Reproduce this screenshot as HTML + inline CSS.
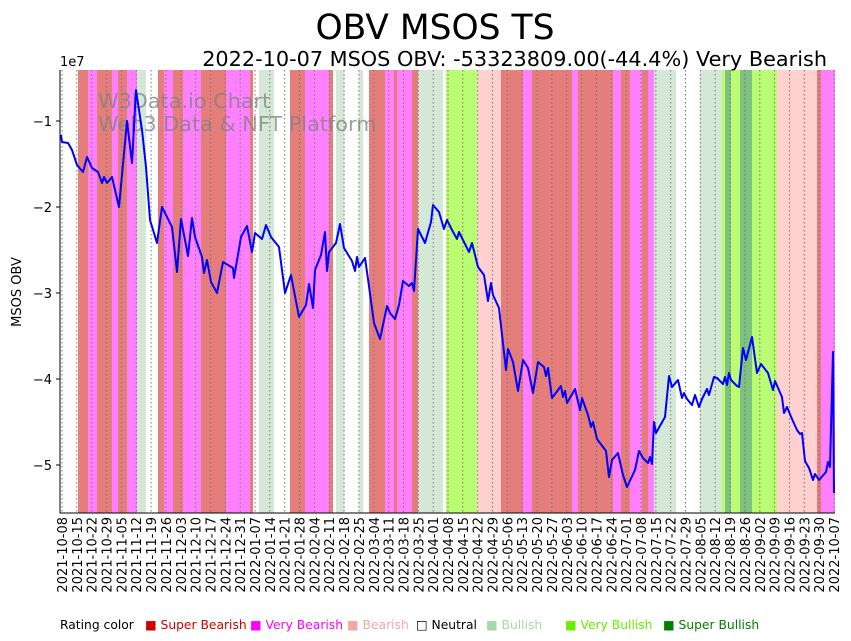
<!DOCTYPE html>
<html><head><meta charset="utf-8"><style>body{margin:0;background:#fff}svg{display:block;font-family:"DejaVu Sans","Liberation Sans",sans-serif}</style></head><body>
<svg width="851" height="641" viewBox="0 0 851 641">
<g>
<rect x="78" y="70" width="10" height="443" fill="#e57e7b"/>
<rect x="88" y="70" width="9" height="443" fill="#ff80ff"/>
<rect x="97" y="70" width="15" height="443" fill="#e57e7b"/>
<rect x="112" y="70" width="6" height="443" fill="#ff80ff"/>
<rect x="118" y="70" width="9" height="443" fill="#e57e7b"/>
<rect x="127" y="70" width="10" height="443" fill="#ff80ff"/>
<rect x="137" y="70" width="9" height="443" fill="#d5e8d5"/>
<rect x="158" y="70" width="6" height="443" fill="#e57e7b"/>
<rect x="164" y="70" width="9" height="443" fill="#ff80ff"/>
<rect x="173" y="70" width="10" height="443" fill="#e57e7b"/>
<rect x="183" y="70" width="18" height="443" fill="#ff80ff"/>
<rect x="201" y="70" width="25" height="443" fill="#e57e7b"/>
<rect x="226" y="70" width="24" height="443" fill="#ff80ff"/>
<rect x="250" y="70" width="3" height="443" fill="#e57e7b"/>
<rect x="259" y="70" width="15" height="443" fill="#d5e8d5"/>
<rect x="290" y="70" width="15" height="443" fill="#e57e7b"/>
<rect x="305" y="70" width="24" height="443" fill="#ff80ff"/>
<rect x="329" y="70" width="4" height="443" fill="#e57e7b"/>
<rect x="336" y="70" width="8" height="443" fill="#d5e8d5"/>
<rect x="359" y="70" width="4" height="443" fill="#d5e8d5"/>
<rect x="369" y="70" width="16" height="443" fill="#e57e7b"/>
<rect x="385" y="70" width="9" height="443" fill="#ff80ff"/>
<rect x="394" y="70" width="3" height="443" fill="#e57e7b"/>
<rect x="397" y="70" width="15" height="443" fill="#ff80ff"/>
<rect x="412" y="70" width="6" height="443" fill="#e57e7b"/>
<rect x="418" y="70" width="25" height="443" fill="#d5e8d5"/>
<rect x="446" y="70" width="31" height="443" fill="#bbfd72"/>
<rect x="477" y="70" width="24" height="443" fill="#ffd0d0"/>
<rect x="501" y="70" width="22" height="443" fill="#e57e7b"/>
<rect x="523" y="70" width="9" height="443" fill="#ff80ff"/>
<rect x="532" y="70" width="40" height="443" fill="#e57e7b"/>
<rect x="572" y="70" width="6" height="443" fill="#ff80ff"/>
<rect x="578" y="70" width="35" height="443" fill="#e57e7b"/>
<rect x="613" y="70" width="8" height="443" fill="#ff80ff"/>
<rect x="621" y="70" width="9" height="443" fill="#e57e7b"/>
<rect x="630" y="70" width="12" height="443" fill="#ff80ff"/>
<rect x="642" y="70" width="6" height="443" fill="#e57e7b"/>
<rect x="648" y="70" width="6" height="443" fill="#ff80ff"/>
<rect x="654" y="70" width="22" height="443" fill="#d5e8d5"/>
<rect x="700" y="70" width="22" height="443" fill="#d5e8d5"/>
<rect x="722" y="70" width="3" height="443" fill="#bbfd72"/>
<rect x="725" y="70" width="6" height="443" fill="#80c080"/>
<rect x="731" y="70" width="9" height="443" fill="#bbfd72"/>
<rect x="740" y="70" width="12" height="443" fill="#80c080"/>
<rect x="752" y="70" width="25" height="443" fill="#bbfd72"/>
<rect x="777" y="70" width="40" height="443" fill="#ffd0d0"/>
<rect x="817" y="70" width="4" height="443" fill="#e57e7b"/>
<rect x="821" y="70" width="14" height="443" fill="#ff80ff"/>
</g>
<g stroke="#777" stroke-width="1" stroke-dasharray="1.5,2.5">
<line x1="62" y1="70" x2="62" y2="513"/><line x1="76.8" y1="70" x2="76.8" y2="513"/><line x1="91.7" y1="70" x2="91.7" y2="513"/><line x1="106.5" y1="70" x2="106.5" y2="513"/><line x1="121.4" y1="70" x2="121.4" y2="513"/><line x1="136.2" y1="70" x2="136.2" y2="513"/><line x1="151.1" y1="70" x2="151.1" y2="513"/><line x1="165.9" y1="70" x2="165.9" y2="513"/><line x1="180.8" y1="70" x2="180.8" y2="513"/><line x1="195.6" y1="70" x2="195.6" y2="513"/><line x1="210.5" y1="70" x2="210.5" y2="513"/><line x1="225.3" y1="70" x2="225.3" y2="513"/><line x1="240.2" y1="70" x2="240.2" y2="513"/><line x1="255" y1="70" x2="255" y2="513"/><line x1="269.8" y1="70" x2="269.8" y2="513"/><line x1="284.7" y1="70" x2="284.7" y2="513"/><line x1="299.5" y1="70" x2="299.5" y2="513"/><line x1="314.4" y1="70" x2="314.4" y2="513"/><line x1="329.2" y1="70" x2="329.2" y2="513"/><line x1="344.1" y1="70" x2="344.1" y2="513"/><line x1="358.9" y1="70" x2="358.9" y2="513"/><line x1="373.8" y1="70" x2="373.8" y2="513"/><line x1="388.6" y1="70" x2="388.6" y2="513"/><line x1="403.5" y1="70" x2="403.5" y2="513"/><line x1="418.3" y1="70" x2="418.3" y2="513"/><line x1="433.2" y1="70" x2="433.2" y2="513"/><line x1="448" y1="70" x2="448" y2="513"/><line x1="462.8" y1="70" x2="462.8" y2="513"/><line x1="477.7" y1="70" x2="477.7" y2="513"/><line x1="492.5" y1="70" x2="492.5" y2="513"/><line x1="507.4" y1="70" x2="507.4" y2="513"/><line x1="522.2" y1="70" x2="522.2" y2="513"/><line x1="537.1" y1="70" x2="537.1" y2="513"/><line x1="551.9" y1="70" x2="551.9" y2="513"/><line x1="566.8" y1="70" x2="566.8" y2="513"/><line x1="581.6" y1="70" x2="581.6" y2="513"/><line x1="596.5" y1="70" x2="596.5" y2="513"/><line x1="611.3" y1="70" x2="611.3" y2="513"/><line x1="626.2" y1="70" x2="626.2" y2="513"/><line x1="641" y1="70" x2="641" y2="513"/><line x1="655.8" y1="70" x2="655.8" y2="513"/><line x1="670.7" y1="70" x2="670.7" y2="513"/><line x1="685.5" y1="70" x2="685.5" y2="513"/><line x1="700.4" y1="70" x2="700.4" y2="513"/><line x1="715.2" y1="70" x2="715.2" y2="513"/><line x1="730.1" y1="70" x2="730.1" y2="513"/><line x1="744.9" y1="70" x2="744.9" y2="513"/><line x1="759.8" y1="70" x2="759.8" y2="513"/><line x1="774.6" y1="70" x2="774.6" y2="513"/><line x1="789.5" y1="70" x2="789.5" y2="513"/><line x1="804.3" y1="70" x2="804.3" y2="513"/><line x1="819.2" y1="70" x2="819.2" y2="513"/><line x1="834" y1="70" x2="834" y2="513"/>
</g>
<g font-size="20.8" fill="#808080" fill-opacity="0.75"><text x="98" y="108">W3Data.io Chart</text><text x="98" y="131">Web3 Data &amp; NFT Platform</text></g>
<polyline fill="none" stroke="#0000ff" stroke-width="2" stroke-linejoin="round" points="61,135 62,142 68,143 72,150 77,165 83,172 87,157 92,168 98,172 102,183 104,177 107,183 112,177 119,207 122,175 127,121 132,163 136,90 142,130 146,167 150,220 157,243 162,207 172,227 177,272 181,219 188,256 192,218 195,237 202,257 204,273 207,260 211,282 217,293 223,262 233,268 234,278 241,237 247,226 252,252 255,233 262,239 266,225 271,237 279,247 285,293 291,275 299,317 306,305 309,284 313,308 315,270 321,255 325,232 327,271 329,252 336,243 340,224 344,248 352,261 355,271 357,257 359,267 365,258 368,279 374,323 380,339 387,306 390,313 395,319 399,305 403,281 409,286 412,283 414,291 418,229 425,243 431,222 433,205 439,212 444,229 447,220 452,230 457,239 459,232 463,240 469,252 472,243 478,267 484,275 488,301 491,283 493,295 499,308 506,370 508,349 513,362 518,391 523,360 528,368 533,393 538,362 544,367 546,376 548,368 552,398 561,386 563,397 565,391 567,403 575,389 580,410 582,398 588,415 591,427 593,422 597,439 606,451 609,477 612,460 618,453 623,475 627,487 635,470 639,451 643,458 648,463 650,457 652,464 654,422 656,433 665,417 669,376 672,387 678,380 682,398 684,393 687,399 692,405 695,395 699,407 702,399 707,389 709,395 714,377 717,378 723,384 725,377 727,385 729,373 731,380 737,386 739,387 743,348 746,360 752,337 757,373 761,364 768,373 773,390 775,381 782,397 784,413 787,407 792,419 797,430 800,434 802,433 805,461 809,468 813,480 815,474 819,480 826,472 828,462 830,467 833,352 834,493"/>
<g stroke="#000" stroke-width="1"><line x1="60" y1="70" x2="60" y2="513.5"/><line x1="60" y1="513" x2="835" y2="513"/>
<line x1="56" y1="121" x2="60" y2="121"/><line x1="56" y1="207" x2="60" y2="207"/><line x1="56" y1="293" x2="60" y2="293"/><line x1="56" y1="379" x2="60" y2="379"/><line x1="56" y1="465" x2="60" y2="465"/></g>
<g font-size="13" text-anchor="end" fill="#000"><text x="52" y="126">−1</text><text x="52" y="212">−2</text><text x="52" y="298">−3</text><text x="52" y="384">−4</text><text x="52" y="470">−5</text></g>
<text x="60" y="66" font-size="13">1e7</text>
<text transform="translate(21,292) rotate(-90)" font-size="13" text-anchor="middle">MSOS OBV</text>
<text x="435" y="39" font-size="34.5" text-anchor="middle">OBV MSOS TS</text>
<text x="827" y="66" font-size="20.8" text-anchor="end">2022-10-07 MSOS OBV: -53323809.00(-44.4%) Very Bearish</text>
<g font-size="13" text-anchor="end">
<text transform="translate(67,517) rotate(-90)">2021-10-08</text><text transform="translate(81.8,517) rotate(-90)">2021-10-15</text><text transform="translate(96.7,517) rotate(-90)">2021-10-22</text><text transform="translate(111.5,517) rotate(-90)">2021-10-29</text><text transform="translate(126.4,517) rotate(-90)">2021-11-05</text><text transform="translate(141.2,517) rotate(-90)">2021-11-12</text><text transform="translate(156.1,517) rotate(-90)">2021-11-19</text><text transform="translate(170.9,517) rotate(-90)">2021-11-26</text><text transform="translate(185.8,517) rotate(-90)">2021-12-03</text><text transform="translate(200.6,517) rotate(-90)">2021-12-10</text><text transform="translate(215.5,517) rotate(-90)">2021-12-17</text><text transform="translate(230.3,517) rotate(-90)">2021-12-24</text><text transform="translate(245.2,517) rotate(-90)">2021-12-31</text><text transform="translate(260,517) rotate(-90)">2022-01-07</text><text transform="translate(274.8,517) rotate(-90)">2022-01-14</text><text transform="translate(289.7,517) rotate(-90)">2022-01-21</text><text transform="translate(304.5,517) rotate(-90)">2022-01-28</text><text transform="translate(319.4,517) rotate(-90)">2022-02-04</text><text transform="translate(334.2,517) rotate(-90)">2022-02-11</text><text transform="translate(349.1,517) rotate(-90)">2022-02-18</text><text transform="translate(363.9,517) rotate(-90)">2022-02-25</text><text transform="translate(378.8,517) rotate(-90)">2022-03-04</text><text transform="translate(393.6,517) rotate(-90)">2022-03-11</text><text transform="translate(408.5,517) rotate(-90)">2022-03-18</text><text transform="translate(423.3,517) rotate(-90)">2022-03-25</text><text transform="translate(438.2,517) rotate(-90)">2022-04-01</text><text transform="translate(453,517) rotate(-90)">2022-04-08</text><text transform="translate(467.8,517) rotate(-90)">2022-04-15</text><text transform="translate(482.7,517) rotate(-90)">2022-04-22</text><text transform="translate(497.5,517) rotate(-90)">2022-04-29</text><text transform="translate(512.4,517) rotate(-90)">2022-05-06</text><text transform="translate(527.2,517) rotate(-90)">2022-05-13</text><text transform="translate(542.1,517) rotate(-90)">2022-05-20</text><text transform="translate(556.9,517) rotate(-90)">2022-05-27</text><text transform="translate(571.8,517) rotate(-90)">2022-06-03</text><text transform="translate(586.6,517) rotate(-90)">2022-06-10</text><text transform="translate(601.5,517) rotate(-90)">2022-06-17</text><text transform="translate(616.3,517) rotate(-90)">2022-06-24</text><text transform="translate(631.2,517) rotate(-90)">2022-07-01</text><text transform="translate(646,517) rotate(-90)">2022-07-08</text><text transform="translate(660.8,517) rotate(-90)">2022-07-15</text><text transform="translate(675.7,517) rotate(-90)">2022-07-22</text><text transform="translate(690.5,517) rotate(-90)">2022-07-29</text><text transform="translate(705.4,517) rotate(-90)">2022-08-05</text><text transform="translate(720.2,517) rotate(-90)">2022-08-12</text><text transform="translate(735.1,517) rotate(-90)">2022-08-19</text><text transform="translate(749.9,517) rotate(-90)">2022-08-26</text><text transform="translate(764.8,517) rotate(-90)">2022-09-02</text><text transform="translate(779.6,517) rotate(-90)">2022-09-09</text><text transform="translate(794.5,517) rotate(-90)">2022-09-16</text><text transform="translate(809.3,517) rotate(-90)">2022-09-23</text><text transform="translate(824.2,517) rotate(-90)">2022-09-30</text><text transform="translate(839,517) rotate(-90)">2022-10-07</text>
</g>
<g font-size="12.3">
<text x="60" y="629" fill="#000">Rating color</text>
<text x="145" y="629" fill="#d00000">■ Super Bearish</text>
<text x="250" y="629" fill="#ff00ff">■ Very Bearish</text>
<text x="347" y="629" fill="#f4a6a6">■ Bearish</text>
<text x="416" y="629" fill="#000">□ Neutral</text>
<text x="486" y="629" fill="#a8d8a8">■ Bullish</text>
<text x="565" y="629" fill="#66ee00">■ Very Bullish</text>
<text x="663" y="629" fill="#008000">■ Super Bullish</text>
</g>
</svg>
</body></html>
